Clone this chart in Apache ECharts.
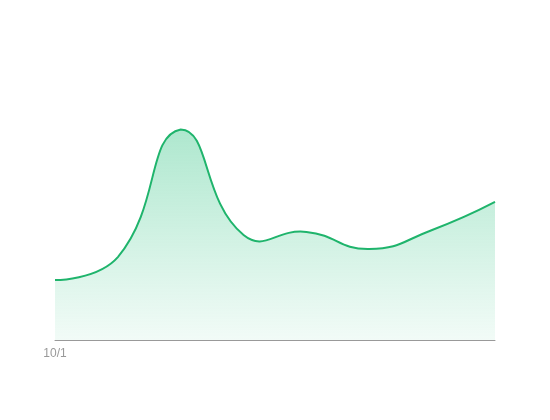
<!DOCTYPE html>
<html>
<head>
<meta charset="utf-8">
<script src="https://cdn.jsdelivr.net/npm/echarts@6/dist/echarts.min.js"></script>
<style>html,body{margin:0;padding:0;background:#fff}#c{width:550px;height:420px}</style>
</head>
<body>
<div id="c"></div>
<script>
const categories = ['10/1','10/2','10/3','10/4','10/5','10/6','10/7','10/8'];
const values = [214, 296, 752, 375, 386, 325, 393, 493];
const shownLabels = ['10/1'];

const LINE_COLOR = '#1fb46c';
const SMOOTH = 0.5;

// Classic (unconstrained per-segment) smoothing, like older ECharts line charts
function smoothPath(pts) {
  const n = pts.length;
  let minX = Infinity, minY = Infinity, maxX = -Infinity, maxY = -Infinity;
  pts.forEach(p => { minX = Math.min(minX, p[0]); maxX = Math.max(maxX, p[0]); minY = Math.min(minY, p[1]); maxY = Math.max(maxY, p[1]); });
  const before = [], after = [];
  for (let i = 0; i < n; i++) {
    const p = pts[i];
    if (i === 0 || i === n - 1) { before.push(p.slice()); after.push(p.slice()); continue; }
    const pr = pts[i - 1], nx = pts[i + 1];
    const vx = (nx[0] - pr[0]) * SMOOTH, vy = (nx[1] - pr[1]) * SMOOTH;
    let d0 = Math.hypot(p[0] - pr[0], p[1] - pr[1]);
    let d1 = Math.hypot(p[0] - nx[0], p[1] - nx[1]);
    const s = d0 + d1;
    if (s !== 0) { d0 /= s; d1 /= s; }
    const clamp = c => [Math.min(Math.max(c[0], minX), maxX), Math.min(Math.max(c[1], minY), maxY)];
    before.push(clamp([p[0] - vx * d0, p[1] - vy * d0]));
    after.push(clamp([p[0] + vx * d1, p[1] + vy * d1]));
  }
  let d = 'M' + pts[0][0] + ' ' + pts[0][1];
  for (let i = 0; i < n - 1; i++) {
    const c1 = after[i], c2 = before[i + 1], e = pts[i + 1];
    d += ' C' + c1[0] + ' ' + c1[1] + ' ' + c2[0] + ' ' + c2[1] + ' ' + e[0] + ' ' + e[1];
  }
  return d;
}

const chart = echarts.init(document.getElementById('c'));
chart.setOption({
  animation: false,
  grid: { left: 55, right: 55, top: 60, bottom: 80 },
  xAxis: {
    type: 'category',
    data: categories,
    boundaryGap: false,
    axisTick: { show: false },
    axisLine: { lineStyle: { color: '#999' } },
    axisLabel: {
      color: '#999',
      fontSize: 12,
      interval: 0,
      formatter: v => shownLabels.includes(v) ? v : ''
    }
  },
  yAxis: {
    type: 'value',
    min: 0,
    max: 1000,
    show: false,
    splitLine: { show: false }
  },
  series: [{
    type: 'custom',
    data: values.map((v, i) => [i, v]),
    encode: { x: 0, y: 1 },
    renderItem: (params, api) => {
      if (params.dataIndex !== 0) return null;
      const pts = values.map((v, i) => api.coord([i, v]));
      const base = api.coord([0, 0])[1];
      const curve = smoothPath(pts);
      const last = pts[pts.length - 1], first = pts[0];
      const area = curve + ' L' + last[0] + ' ' + base + ' L' + first[0] + ' ' + base + ' Z';
      return {
        type: 'group',
        children: [
          {
            type: 'path',
            shape: { pathData: area },
            style: {
              fill: new echarts.graphic.LinearGradient(0, 0, 0, 1, [
                { offset: 0, color: 'rgba(31,190,120,0.36)' },
                { offset: 1, color: 'rgba(31,190,120,0.06)' }
              ]),
              stroke: 'none'
            }
          },
          {
            type: 'path',
            shape: { pathData: curve },
            style: { fill: 'none', stroke: LINE_COLOR, lineWidth: 2 }
          }
        ]
      };
    }
  }]
});
</script>
</body>
</html>
